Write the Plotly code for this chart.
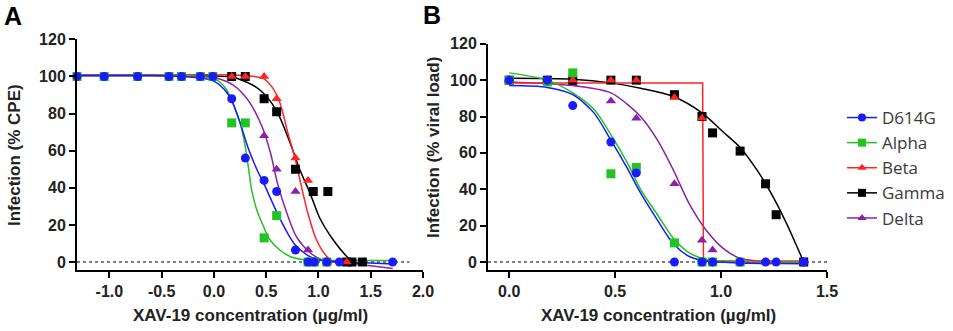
import plotly.graph_objects as go

# ---------------- Data: panel A (CPE) ----------------
A_d614g_x = [-1.31, -1.05, -0.73, -0.43, -0.31, -0.13, -0.01, 0.17, 0.30, 0.48, 0.60, 0.78, 0.90, 0.96, 1.08, 1.20, 1.71]
A_d614g_y = [100, 100, 100, 100, 100, 100, 100, 88, 56, 44, 38, 6.5, 0, 0, 0, 0, 0]
A_alpha_x = [-1.31, -1.05, -0.73, -0.43, -0.31, -0.13, -0.01, 0.17, 0.30, 0.48, 0.60, 0.90, 0.96, 1.08]
A_alpha_y = [100, 100, 100, 100, 100, 100, 100, 75, 75, 13, 25, 0, 0, 0]
A_beta_x = [0.17, 0.30, 0.48, 0.60, 0.78, 0.90, 1.08, 1.27]
A_beta_y = [100, 100, 100, 88, 56, 44, 0, 0]
A_gamma_x = [0.17, 0.30, 0.48, 0.60, 0.78, 0.95, 1.09, 1.27, 1.32, 1.42]
A_gamma_y = [100, 100, 88, 81, 50, 38, 38, 0, 0, 0]
A_delta_x = [0.17, 0.30, 0.48, 0.60, 0.78, 0.90, 1.08]
A_delta_y = [100, 100, 68, 50, 38, 6.5, 0]

# fitted curves
A_fit_d614g_x = [-1.31, -0.6, -0.3, -0.1, 0.0, 0.1, 0.17, 0.25, 0.33, 0.41, 0.48, 0.60, 0.70, 0.78, 0.90, 1.0, 1.2, 1.5, 1.71]
A_fit_d614g_y = [100.5, 100.5, 100, 99, 97.5, 93, 87, 75, 61, 50, 42, 27, 16, 9, 3.5, 1.2, 0, -0.5, -1]
A_fit_alpha_x = [-1.31, -0.5, -0.1, 0.03, 0.12, 0.18, 0.25, 0.30, 0.33, 0.36, 0.41, 0.46, 0.535, 0.63, 0.73, 0.89, 1.1, 1.71]
A_fit_alpha_y = [100.5, 100.5, 100, 98, 93, 86, 75, 62, 51, 39, 28, 21, 12, 6.5, 3, 1, 0.8, 0.8]
A_fit_beta_x = [-1.31, -0.5, 0.18, 0.47, 0.56, 0.63, 0.71, 0.78, 0.84, 0.90, 0.98, 1.08, 1.14, 1.27]
A_fit_beta_y = [100.8, 100.8, 100.8, 99, 94, 86, 69, 55, 40, 26, 12, 3, 0.5, 0]
A_fit_gamma_x = [-1.31, -0.5, -0.2, 0.0, 0.18, 0.41, 0.535, 0.63, 0.73, 0.82, 0.92, 1.01, 1.14, 1.27, 1.33, 1.42]
A_fit_gamma_y = [100.5, 100.5, 100.5, 100.2, 99.7, 94, 87, 78, 64, 50, 37, 24, 12, 3, 0, -1]
A_fit_delta_x = [-1.31, -0.5, -0.3, 0.0, 0.185, 0.33, 0.46, 0.54, 0.61, 0.70, 0.79, 0.92, 1.04, 1.3, 1.5, 1.71]
A_fit_delta_y = [100.5, 100.5, 100.5, 99.5, 95.4, 87, 73, 59, 42, 26, 13.5, 5, 1, -0.5, -2, -3.5]

# ---------------- Data: panel B (viral load) ----------------
B_d614g_x = [0.0, 0.18, 0.30, 0.48, 0.60, 0.78, 0.91, 0.96, 1.09, 1.21, 1.26, 1.39]
B_d614g_y = [100, 100, 86, 66, 49, 0, 0, 0, 0, 0, 0, 0]
B_alpha_x = [0.0, 0.18, 0.30, 0.48, 0.60, 0.78, 0.91, 0.96, 1.09]
B_alpha_y = [100, 99, 104, 48.5, 52, 10.5, 0, 0, 0]
B_beta_x = [0.0, 0.18, 0.30, 0.48, 0.60, 0.78, 0.91, 0.96, 1.09, 1.21, 1.26, 1.39]
B_beta_y = [100, 100, 100, 100, 100, 90.5, 79, 0, 0, 0, 0, 0]
B_gamma_x = [0.0, 0.18, 0.30, 0.48, 0.60, 0.78, 0.91, 0.96, 1.09, 1.21, 1.26, 1.39]
B_gamma_y = [100, 100, 100, 100, 100, 92, 80, 71, 61, 43, 26, 0]
B_delta_x = [0.0, 0.18, 0.30, 0.48, 0.60, 0.78, 0.91, 0.96, 1.09, 1.21]
B_delta_y = [100, 100, 98, 88.5, 79, 43, 12, 6.6, 0, 0]

B_fit_d614g_x = [0.0, 0.18, 0.30, 0.40, 0.48, 0.555, 0.62, 0.70, 0.775, 0.85, 0.93, 1.09, 1.39]
B_fit_d614g_y = [97, 96, 92, 82, 67, 52, 38, 23, 10, 3, 0.5, -0.5, -1]
B_fit_alpha_x = [0.0, 0.18, 0.30, 0.40, 0.48, 0.555, 0.62, 0.70, 0.775, 0.85, 0.93, 1.09, 1.39]
B_fit_alpha_y = [104, 100, 93, 84, 70, 55, 40, 26, 13, 5, 1.5, 0, 0]
B_fit_beta_x = [0.0, 0.913, 0.917, 1.39]
B_fit_beta_y = [98.5, 98.5, 0.5, 0.5]
B_fit_gamma_x = [0.0, 0.30, 0.48, 0.62, 0.775, 0.91, 1.01, 1.09, 1.17, 1.245, 1.31, 1.36, 1.39]
B_fit_gamma_y = [101, 100.5, 98.5, 95.5, 91, 82, 71.5, 63, 50.5, 36, 21, 8, 0]
B_fit_delta_x = [0.0, 0.30, 0.48, 0.555, 0.62, 0.70, 0.775, 0.85, 0.93, 1.01, 1.09, 1.25, 1.39]
B_fit_delta_y = [99, 97, 93, 87, 80, 67, 50.5, 32, 17.5, 7.5, 2, 0, -0.5]

# baselines (dashed zero lines)
A_zero_x = [-1.31, 1.87]
B_zero_x = [-0.1, 1.5]
zero_y = [0, 0]

# ticks
y_ticks = [0, 20, 40, 60, 80, 100, 120]
A_xticks = [-1.0, -0.5, 0.0, 0.5, 1.0, 1.5, 2.0]
A_xticklabels = ["-1.0", "-0.5", "0.0", "0.5", "1.0", "1.5", "2.0"]
B_xticks = [0.0, 0.5, 1.0, 1.5]
B_xticklabels = ["0.0", "0.5", "1.0", "1.5"]

series = ["D614G", "Alpha", "Beta", "Gamma", "Delta"]
colors = {"D614G": "#1a1aff", "Alpha": "#22c322", "Beta": "#ff2424",
          "Gamma": "#000000", "Delta": "#8a22a8"}
symbols = {"D614G": "circle", "Alpha": "square", "Beta": "triangle-up",
           "Gamma": "square", "Delta": "triangle-up"}

A_pts = {"D614G": (A_d614g_x, A_d614g_y), "Alpha": (A_alpha_x, A_alpha_y),
         "Beta": (A_beta_x, A_beta_y), "Gamma": (A_gamma_x, A_gamma_y),
         "Delta": (A_delta_x, A_delta_y)}
A_fit = {"D614G": (A_fit_d614g_x, A_fit_d614g_y), "Alpha": (A_fit_alpha_x, A_fit_alpha_y),
         "Beta": (A_fit_beta_x, A_fit_beta_y), "Gamma": (A_fit_gamma_x, A_fit_gamma_y),
         "Delta": (A_fit_delta_x, A_fit_delta_y)}
B_pts = {"D614G": (B_d614g_x, B_d614g_y), "Alpha": (B_alpha_x, B_alpha_y),
         "Beta": (B_beta_x, B_beta_y), "Gamma": (B_gamma_x, B_gamma_y),
         "Delta": (B_delta_x, B_delta_y)}
B_fit = {"D614G": (B_fit_d614g_x, B_fit_d614g_y), "Alpha": (B_fit_alpha_x, B_fit_alpha_y),
         "Beta": (B_fit_beta_x, B_fit_beta_y), "Gamma": (B_fit_gamma_x, B_fit_gamma_y),
         "Delta": (B_fit_delta_x, B_fit_delta_y)}

fig = go.Figure()

draw_order = ["Delta", "Gamma", "Beta", "Alpha", "D614G"]

for xa, ya, pts, fits, zx in [("x", "y", A_pts, A_fit, A_zero_x), ("x2", "y2", B_pts, B_fit, B_zero_x)]:
    fig.add_trace(go.Scatter(x=zx, y=zero_y, mode="lines", xaxis=xa, yaxis=ya,
                             line=dict(color="#555555", width=1.5, dash="3px,3px"),
                             showlegend=False, hoverinfo="skip"))
    for s in draw_order:
        fx, fy = fits[s]
        shape = "linear" if (s == "Beta" and xa == "x2") else "spline"
        fig.add_trace(go.Scatter(x=fx, y=fy, mode="lines", xaxis=xa, yaxis=ya,
                                 line=dict(color=colors[s], width=1.5, shape=shape, smoothing=0.8),
                                 showlegend=False, cliponaxis=False, hoverinfo="skip"))
    for s in draw_order:
        px, py = pts[s]
        fig.add_trace(go.Scatter(x=px, y=py, mode="markers", xaxis=xa, yaxis=ya,
                                 marker=dict(color=colors[s], symbol=symbols[s], size=9,
                                             line=dict(width=0)),
                                 showlegend=False, cliponaxis=False, name=s))

# legend entries
for s in series:
    fig.add_trace(go.Scatter(x=[None], y=[None], mode="lines+markers", name=s,
                             xaxis="x2", yaxis="y2",
                             marker=dict(color=colors[s], symbol=symbols[s], size=8),
                             line=dict(color=colors[s], width=1.5)))

axis_font = dict(family="Liberation Sans, Arial, sans-serif", size=16, color="#222222", weight="bold")
common_axis = dict(showline=True, linewidth=2, linecolor="black", ticks="outside",
                   ticklen=6, tickwidth=2, tickcolor="black", showgrid=False,
                   zeroline=False, tickfont=axis_font, automargin=False)

fig.update_layout(
    template="none",
    width=953, height=331,
    margin=dict(l=0, r=0, t=0, b=0, pad=0, autoexpand=False),
    paper_bgcolor="white", plot_bgcolor="white",
    xaxis=dict(domain=[77 / 953, 423 / 953], range=[-1.31, 2.0], anchor="y",
               tickvals=A_xticks, ticktext=A_xticklabels, **common_axis),
    yaxis=dict(domain=[1 - 270 / 331, 1 - 39 / 331], range=[-4.3, 120.2], anchor="x",
               tickvals=y_ticks, **common_axis),
    xaxis2=dict(domain=[488 / 953, 827 / 953], range=[-0.1, 1.5], anchor="y2",
                tickvals=B_xticks, ticktext=B_xticklabels, **common_axis),
    yaxis2=dict(domain=[1 - 270 / 331, 1 - 43.6 / 331], range=[-4.4, 120.1], anchor="x2",
                tickvals=y_ticks, **common_axis),
    legend=dict(x=842 / 953, y=1 - 100 / 331, xanchor="left", yanchor="top",
                font=dict(family="Open Sans, sans-serif", size=17, color="#3a3a3a"),
                bgcolor="rgba(0,0,0,0)", borderwidth=0, itemwidth=30),
    showlegend=True,
)

title_font = dict(family="Liberation Sans, Arial, sans-serif", size=17, color="#222222", weight="bold")
letter_font = dict(family="Liberation Sans, Arial, sans-serif", size=25, color="black", weight="bold")
annots = [
    dict(text="A", x=12.5 / 953, y=1 - 15.5 / 331, font=letter_font),
    dict(text="B", x=432 / 953, y=1 - 15 / 331, font=letter_font),
    dict(text="Infection (% CPE)", x=14 / 953, y=1 - 155 / 331, textangle=-90, font=title_font),
    dict(text="Infection (% viral load)", x=433 / 953, y=1 - 148 / 331, textangle=-90, font=title_font),
    dict(text="XAV-19 concentration (µg/ml)", x=250 / 953, y=1 - 315 / 331, font=title_font),
    dict(text="XAV-19 concentration (µg/ml)", x=658 / 953, y=1 - 315 / 331, font=title_font),
]
for a in annots:
    fig.add_annotation(xref="paper", yref="paper", showarrow=False,
                       xanchor="center", yanchor="middle", **a)

post = (
    "document.documentElement.style.margin='0';document.body.style.margin='0';"
    "document.body.style.padding='0';document.documentElement.style.overflow='hidden';"
    "document.body.style.overflow='hidden';"
    "var d=document.getElementById('{plot_id}');"
    "d.style.position='fixed';d.style.top='0px';d.style.left='0px';"
)
fig.write_html("out.html", config={"displayModeBar": False, "responsive": False},
               post_script=post)
